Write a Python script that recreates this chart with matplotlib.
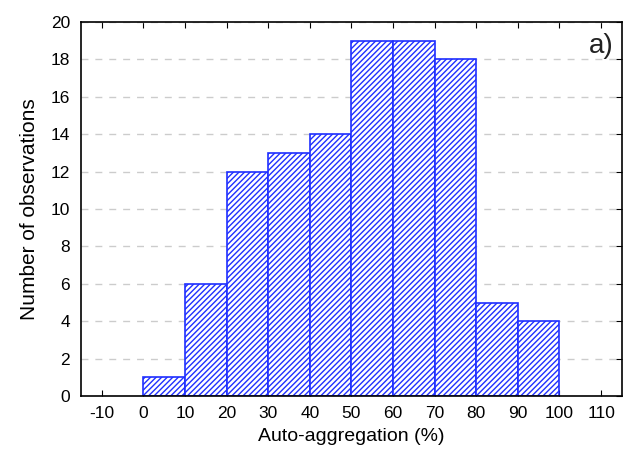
import numpy as np
import matplotlib.pyplot as plt

plt.rcParams['font.family'] = ['Liberation Sans', 'DejaVu Sans']
plt.rcParams['hatch.linewidth'] = 1.0
plt.rcParams['hatch.color'] = '#1f2fff'
plt.rcParams['axes.unicode_minus'] = False

BIN_EDGES = [0, 10, 20, 30, 40, 50, 60, 70, 80, 90, 100]
COUNTS = [1, 6, 12, 13, 14, 19, 19, 18, 5, 4]
X_TICKS = list(range(-10, 111, 10))
Y_TICKS = list(range(0, 21, 2))

fig = plt.figure(figsize=(6.25, 4.68), dpi=100)
ax = fig.add_axes([0.1296, 0.1538, 0.8654, 0.7992])

left = BIN_EDGES[:-1]
widths = np.diff(BIN_EDGES)
ax.bar(left, COUNTS, width=widths, align='edge', color='white',
       edgecolor='#1f2fff', linewidth=1.2, hatch='//////', zorder=3)

ax.set_xlim(-15, 115)
ax.set_ylim(0, 20)
ax.set_xticks(X_TICKS)
ax.set_yticks(Y_TICKS)
ax.tick_params(axis='both', labelsize=12.5, direction='in', length=4,
               top=True, right=True, left=False)
ax.tick_params(axis='x', pad=7)
ax.tick_params(axis='y', pad=8)
ax.grid(axis='y', linestyle=(0, (5, 5)), color='#cccccc', linewidth=1.0, zorder=0)
for s in ax.spines.values():
    s.set_linewidth(1.2)
    s.set_zorder(4)

ax.set_xlabel('Auto-aggregation (%)', fontsize=14, labelpad=5)
ax.set_ylabel('Number of observations', fontsize=15, labelpad=8)
ax.text(0.985, 0.97, 'a)', transform=ax.transAxes, ha='right', va='top',
        fontsize=20, color='#222222')

fig.savefig('out.png', dpi=100)
